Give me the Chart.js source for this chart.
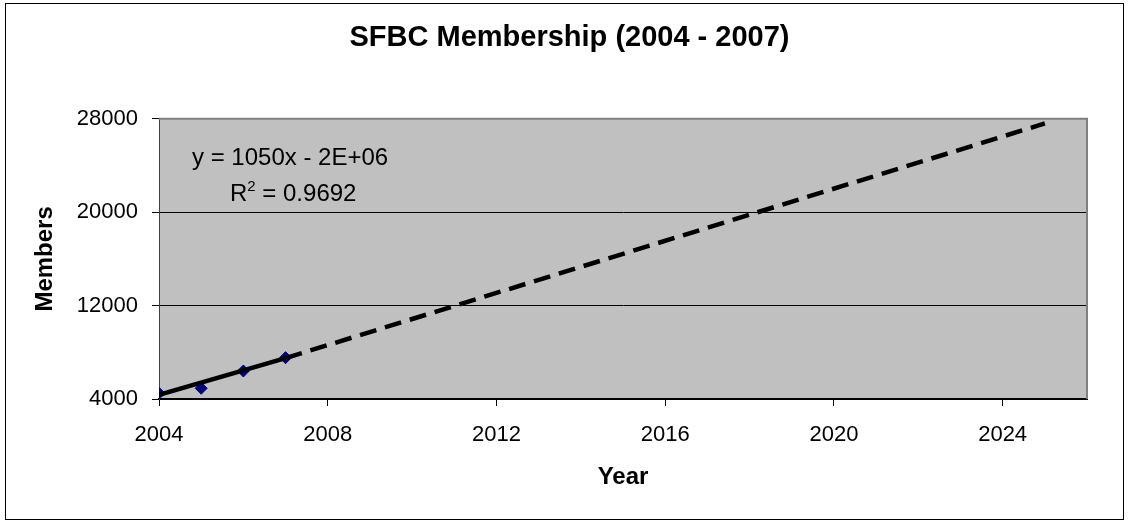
<!DOCTYPE html>
<html>
<head>
<meta charset="utf-8">
<script src="https://cdn.jsdelivr.net/npm/chart.js@4/dist/chart.umd.min.js"></script>
<style>
  body { margin: 0; background: #fff; }
  #wrap { width: 1128px; height: 523px; }
</style>
</head>
<body>
<div id="wrap"><canvas id="memberChart" width="1128" height="523"></canvas></div>
<script>
// membership data
const years = [2004, 2005, 2006, 2007];
const members = [4490, 4920, 6400, 7540];

// linear trendline, solid over the data, dashed forecast after 2007
const trendYears = [2004, 2007, 2025];
const trendValues = [4350, 7500, 27600];

const yTicks = [4000, 12000, 20000, 28000];
const xTicks = [2004, 2008, 2012, 2016, 2020, 2024];

const eqLine = "y = 1050x - 2E+06";
const r2Value = " = 0.9692";

const FONT = "'Liberation Sans', Arial, sans-serif";

const chartFrame = {
  id: 'chartFrame',
  beforeDraw(chart) {
    const { ctx, chartArea: a } = chart;
    ctx.save();
    ctx.fillStyle = '#fff';
    ctx.fillRect(0, 0, chart.width, chart.height);
    ctx.fillStyle = '#c0c0c0';
    ctx.fillRect(a.left, a.top, a.right - a.left, a.bottom - a.top);
    ctx.strokeStyle = '#000';
    ctx.lineWidth = 1;
    ctx.strokeRect(5.5, 3.5, 1118, 516);
    ctx.restore();
  },
  afterDraw(chart) {
    const { ctx, chartArea: a } = chart;
    ctx.save();
    // plot area border top/right
    ctx.strokeStyle = '#808080';
    ctx.lineWidth = 2;
    ctx.beginPath();
    ctx.moveTo(a.left, a.top);
    ctx.lineTo(a.right, a.top);
    ctx.lineTo(a.right, a.bottom);
    ctx.stroke();
    // trendline equation
    ctx.fillStyle = '#000';
    ctx.textBaseline = 'alphabetic';
    ctx.font = '24px ' + FONT;
    ctx.fillText(eqLine, 192, 165);
    ctx.fillText('R', 230, 201);
    const rw = ctx.measureText('R').width;
    ctx.font = '15px ' + FONT;
    ctx.fillText('2', 230 + rw, 191);
    const sw = ctx.measureText('2').width;
    ctx.font = '24px ' + FONT;
    ctx.fillText(r2Value, 230 + rw + sw, 201);
    ctx.restore();
  }
};

const ctx = document.getElementById('memberChart').getContext('2d');
new Chart(ctx, {
  type: 'scatter',
  data: {
    datasets: [
      {
        label: 'Trend',
        type: 'line',
        data: trendYears.map((x, i) => ({ x, y: trendValues[i] })),
        borderColor: '#000',
        borderWidth: 4.5,
        pointRadius: 0,
        tension: 0,
        fill: false,
        order: 0,
        segment: {
          borderDash: c => c.p0.parsed.x >= 2007 ? [17, 9] : undefined
        }
      },
      {
        label: 'Members',
        data: years.map((x, i) => ({ x, y: members[i] })),
        pointStyle: 'rectRot',
        pointRadius: 6,
        backgroundColor: '#000080',
        borderColor: '#000080',
        order: 1
      }
    ]
  },
  options: {
    responsive: false,
    animation: false,
    layout: { padding: { left: 52, right: 41, top: 0, bottom: 0 } },
    plugins: {
      legend: { display: false },
      tooltip: { enabled: false },
      title: {
        display: true,
        text: 'SFBC Membership (2004 - 2007)',
        color: '#000',
        font: { family: FONT, size: 29, weight: 'bold' },
        padding: { top: 21, bottom: 63 }
      }
    },
    scales: {
      x: {
        type: 'linear',
        min: 2004,
        max: 2026,
        afterBuildTicks: s => { s.ticks = xTicks.map(v => ({ value: v })); },
        afterFit: s => { s.height = 124; },
        ticks: {
          color: '#000',
          padding: 16,
          font: { family: FONT, size: 22 },
          callback: v => String(v)
        },
        grid: { drawOnChartArea: false, drawTicks: true, tickLength: 7, color: '#000' },
        border: { color: '#000', width: 2 },
        title: {
          display: true,
          text: 'Year',
          color: '#000',
          font: { family: FONT, size: 24, weight: 'bold' },
          padding: { top: 0, bottom: 31 }
        }
      },
      y: {
        min: 4000,
        max: 28000,
        afterBuildTicks: s => { s.ticks = yTicks.map(v => ({ value: v })); },
        afterFit: s => { s.width = 107; },
        ticks: {
          color: '#000',
          padding: 14,
          font: { family: FONT, size: 22 },
          callback: v => String(v)
        },
        grid: {
          color: c => c.tick && c.tick.value === 28000 ? '#808080' : '#000',
          tickColor: '#000',
          tickLength: 7,
          lineWidth: 1
        },
        border: { color: '#404040', width: 1 },
        title: {
          display: true,
          text: 'Members',
          color: '#000',
          font: { family: FONT, size: 24, weight: 'bold' },
          padding: { top: -21, bottom: 0 }
        }
      }
    }
  },
  plugins: [chartFrame]
});
</script>
</body>
</html>
